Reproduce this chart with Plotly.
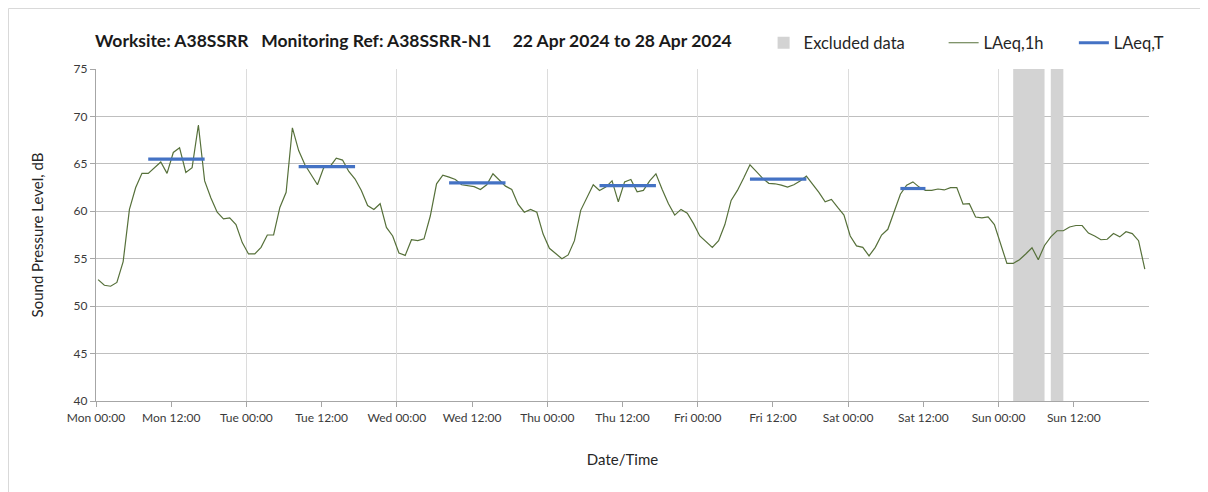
import plotly.graph_objects as go
import pandas as pd

# ---- data ----
start_time = "2024-04-22 00:20"
laeq_1h = [
    # Mon
    52.8, 52.2, 52.1, 52.5, 54.7, 60.2, 62.5, 64.0, 64.0, 64.6, 65.2, 64.0,
    66.2, 66.7, 64.1, 64.6, 69.1, 63.2, 61.4, 59.9, 59.2, 59.3, 58.6, 56.7,
    # Tue
    55.5, 55.5, 56.2, 57.5, 57.5, 60.4, 62.0, 68.8, 66.4, 64.9, 63.9, 62.8,
    64.6, 64.7, 65.6, 65.4, 64.2, 63.4, 62.2, 60.6, 60.2, 60.8, 58.3, 57.4,
    # Wed
    55.6, 55.35, 57.0, 56.9, 57.1, 59.5, 62.9, 63.8, 63.6, 63.35, 62.8, 62.7,
    62.6, 62.3, 62.8, 63.95, 63.35, 62.65, 62.3, 60.75, 59.9, 60.2, 59.9, 57.6,
    # Thu
    56.1, 55.5, 55.0, 55.4, 56.9, 60.1, 61.4, 62.8, 62.2, 62.55, 63.2, 61.0,
    63.1, 63.35, 62.05, 62.2, 63.2, 63.95, 62.3, 60.8, 59.6, 60.2, 59.8, 58.7,
    # Fri
    57.4, 56.8, 56.2, 56.9, 58.6, 61.15, 62.2, 63.5, 64.9, 64.2, 63.5, 62.95,
    62.9, 62.75, 62.55, 62.8, 63.2, 63.7, 62.9, 62.0, 61.0, 61.25, 60.4, 59.6,
    # Sat
    57.4, 56.35, 56.2, 55.3, 56.2, 57.5, 58.1, 60.0, 61.8, 62.75, 63.1, 62.55,
    62.2, 62.2, 62.35, 62.25, 62.5, 62.5, 60.75, 60.8, 59.4, 59.3, 59.4, 58.6,
    # Sun
    56.5, 54.5, 54.5, 54.9, 55.5, 56.15, 54.9, 56.4, 57.3, 57.95, 57.95, 58.35,
    58.5, 58.5, 57.7, 57.4, 57.0, 57.05, 57.65, 57.3, 57.85, 57.65, 56.9, 53.9,
]

# LAeq,T periods (start, end, level)
period_starts = ["2024-04-22 08:20", "2024-04-23 08:20", "2024-04-24 08:20",
                 "2024-04-25 08:20", "2024-04-26 08:20", "2024-04-27 08:20"]
period_ends = ["2024-04-22 17:20", "2024-04-23 17:20", "2024-04-24 17:20",
               "2024-04-25 17:20", "2024-04-26 17:20", "2024-04-27 12:20"]
period_levels = [65.5, 64.7, 63.0, 62.7, 63.4, 62.4]

# Excluded data periods (start, duration in hours)
excluded_starts = ["2024-04-28 02:20", "2024-04-28 08:20"]
excluded_durations_h = [5, 2]

tick_times = pd.date_range("2024-04-22 00:00", periods=14, freq="12h")
tick_labels = ["Mon 00:00", "Mon 12:00", "Tue 00:00", "Tue 12:00", "Wed 00:00",
               "Wed 12:00", "Thu 00:00", "Thu 12:00", "Fri 00:00", "Fri 12:00",
               "Sat 00:00", "Sat 12:00", "Sun 00:00", "Sun 12:00"]
day_lines = pd.date_range("2024-04-22 00:00", periods=8, freq="24h")
y_ticks = [40, 45, 50, 55, 60, 65, 70, 75]

title_text = ("<b>Worksite: A38SSRR&nbsp;&nbsp;&nbsp;Monitoring Ref: A38SSRR-N1"
              "&nbsp;&nbsp;&nbsp;&nbsp;&nbsp;22 Apr 2024 to 28 Apr 2024</b>")

# ---- figure ----
times = pd.date_range(start_time, periods=len(laeq_1h), freq="1h")

px, py = [], []
for s, e, v in zip(period_starts, period_ends, period_levels):
    px += [pd.Timestamp(s), pd.Timestamp(e), None]
    py += [v, v, None]

FONT = "Lato, 'Open Sans', sans-serif"
fig = go.Figure()
fig.add_trace(go.Bar(
    x=[pd.Timestamp(t) for t in excluded_starts],
    y=[35] * len(excluded_starts), base=40,
    width=[d * 3600000 for d in excluded_durations_h], offset=0,
    marker=dict(color="#d3d3d3", line=dict(width=0)),
    name="Excluded data" + "&nbsp;" * 8, hoverinfo="skip",
))
fig.add_trace(go.Scatter(
    x=times, y=laeq_1h, mode="lines", name="LAeq,1h" + "&nbsp;" * 6,
    line=dict(color="#56703a", width=1.2),
))
fig.add_trace(go.Scatter(
    x=px, y=py, mode="lines", name="LAeq,T",
    line=dict(color="#4472c4", width=3.2), connectgaps=False,
))
# dummy trace carrying the day-gridline axis
fig.add_trace(go.Scatter(x=[day_lines[0]], y=[None], xaxis="x2",
                         showlegend=False, hoverinfo="skip", mode="lines"))

x_range = [pd.Timestamp("2024-04-22 00:00"), pd.Timestamp("2024-04-29 00:00")]
fig.update_layout(
    width=1208, height=492,
    paper_bgcolor="white", plot_bgcolor="white",
    margin=dict(l=88, r=67, t=61, b=99, autoexpand=False),
    font=dict(family=FONT, size=12, color="#404040"),
    title=dict(text=title_text, x=87 / 1208, xanchor="left",
               y=1 - 33 / 492, yanchor="middle",
               font=dict(family=FONT, size=17.5, color="#1a1a1a")),
    legend=dict(orientation="h", x=0.634, xanchor="left", y=1 + 26 / 332,
                yanchor="middle", font=dict(size=16.5, color="#262626"),
                bgcolor="rgba(0,0,0,0)", traceorder="normal",
                itemwidth=30),
    barmode="overlay",
    showlegend=True,
    xaxis=dict(
        type="date", range=x_range,
        tickvals=list(tick_times), ticktext=tick_labels,
        showgrid=False, zeroline=False, automargin=False,
        showline=True, linecolor="#a6a6a6", linewidth=1.3,
        ticks="outside", ticklen=5, tickcolor="#a6a6a6",
        tickfont=dict(size=12, color="#3a3a3a"),
        title=dict(text="Date/Time", font=dict(size=15, color="#262626"),
                   standoff=30),
    ),
    xaxis2=dict(
        type="date", range=x_range, overlaying="x", anchor="y",
        tickvals=list(day_lines), showticklabels=False, ticks="",
        showgrid=True, gridcolor="#dcdcdc", gridwidth=1, showline=False,
        zeroline=False,
    ),
    yaxis=dict(
        range=[40, 75], tickvals=y_ticks, automargin=False,
        showgrid=True, gridcolor="#bfbfbf", gridwidth=1, zeroline=False,
        showline=True, linecolor="#a6a6a6", linewidth=1.3,
        ticks="outside", ticklen=5, tickcolor="#a6a6a6",
        tickfont=dict(size=12, color="#3a3a3a"),
        title=dict(text="Sound Pressure Level, dB",
                   font=dict(size=15, color="#262626"), standoff=26),
    ),
    shapes=[
        dict(type="line", xref="paper", yref="paper",
             x0=-87.5 / 1053, x1=1.2, y0=1 + 60.5 / 332, y1=1 + 60.5 / 332,
             line=dict(color="#d9d9d9", width=1)),
        dict(type="line", xref="paper", yref="paper",
             x0=-87.5 / 1053, x1=-87.5 / 1053, y0=1 + 60.5 / 332, y1=-0.3,
             line=dict(color="#d9d9d9", width=1)),
    ],
)
fig.write_html("out.html")
